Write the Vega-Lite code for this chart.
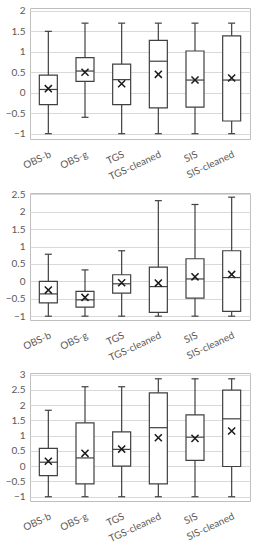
{
  "$schema": "https://vega.github.io/schema/vega-lite/v6.json",
  "padding": {"left": 4, "top": 5, "right": 5, "bottom": 5},
  "spacing": 5,
  "config": {
    "font": "Lato",
    "view": {"stroke": "#bfbfbf", "strokeWidth": 1},
    "tick": {"opacity": 1},
    "axis": {"labelColor": "#595959", "labelFontSize": 10, "ticks": false, "domain": false, "title": null, "labelOverlap": false, "labelFlush": false},
    "axisY": {"gridColor": "#d9d9d9", "labelPadding": 5, "labelExpr": "format(datum.value, '.1~f')"},
    "axisX": {"grid": false, "labelAngle": -25, "labelPadding": 10}
  },
  "datasets": {
    "stats": [
      {"panel": "A", "cat": "OBS-b", "min": -1, "q1": -0.29, "median": 0.08, "q3": 0.43, "max": 1.5, "mean": 0.1},
      {"panel": "A", "cat": "OBS-g", "min": -0.6, "q1": 0.28, "median": 0.53, "q3": 0.86, "max": 1.7, "mean": 0.5},
      {"panel": "A", "cat": "TGS", "min": -1, "q1": -0.29, "median": 0.32, "q3": 0.7, "max": 1.7, "mean": 0.22},
      {"panel": "A", "cat": "TGS-cleaned", "min": -1, "q1": -0.37, "median": 0.77, "q3": 1.28, "max": 1.7, "mean": 0.45},
      {"panel": "A", "cat": "SIS", "min": -1, "q1": -0.35, "median": 0.31, "q3": 1.02, "max": 1.7, "mean": 0.31},
      {"panel": "A", "cat": "SIS-cleaned", "min": -1, "q1": -0.69, "median": 0.31, "q3": 1.39, "max": 1.7, "mean": 0.36},
      {"panel": "B", "cat": "OBS-b", "min": -1, "q1": -0.62, "median": -0.36, "q3": 0.0, "max": 0.78, "mean": -0.25},
      {"panel": "B", "cat": "OBS-g", "min": -1, "q1": -0.74, "median": -0.53, "q3": -0.29, "max": 0.33, "mean": -0.46},
      {"panel": "B", "cat": "TGS", "min": -1, "q1": -0.34, "median": -0.07, "q3": 0.19, "max": 0.88, "mean": -0.04},
      {"panel": "B", "cat": "TGS-cleaned", "min": -1, "q1": -0.89, "median": -0.15, "q3": 0.41, "max": 2.32, "mean": -0.05},
      {"panel": "B", "cat": "SIS", "min": -1, "q1": -0.48, "median": 0.07, "q3": 0.65, "max": 2.21, "mean": 0.13},
      {"panel": "B", "cat": "SIS-cleaned", "min": -1, "q1": -0.86, "median": 0.11, "q3": 0.88, "max": 2.42, "mean": 0.2},
      {"panel": "C", "cat": "OBS-b", "min": -1, "q1": -0.31, "median": 0.13, "q3": 0.58, "max": 1.83, "mean": 0.16},
      {"panel": "C", "cat": "OBS-g", "min": -1, "q1": -0.58, "median": 0.27, "q3": 1.42, "max": 2.6, "mean": 0.42},
      {"panel": "C", "cat": "TGS", "min": -1, "q1": 0.0, "median": 0.55, "q3": 1.12, "max": 2.6, "mean": 0.56},
      {"panel": "C", "cat": "TGS-cleaned", "min": -1, "q1": -0.58, "median": 1.26, "q3": 2.4, "max": 2.86, "mean": 0.93},
      {"panel": "C", "cat": "SIS", "min": -1, "q1": 0.19, "median": 0.95, "q3": 1.68, "max": 2.86, "mean": 0.91},
      {"panel": "C", "cat": "SIS-cleaned", "min": -1, "q1": -0.01, "median": 1.55, "q3": 2.49, "max": 2.86, "mean": 1.15}
    ]
  },
  "vconcat": [
    {
      "width": 220, "height": 131,
      "data": {"name": "stats"},
      "transform": [{"filter": "datum.panel === 'A'"}],
      "encoding": {
        "x": {"field": "cat", "type": "nominal", "sort": ["OBS-b", "OBS-g", "TGS", "TGS-cleaned", "SIS", "SIS-cleaned"]}
      },
      "layer": [
        {"mark": {"type": "rule", "color": "#404040", "strokeWidth": 1.2},
         "encoding": {"y": {"field": "min", "type": "quantitative", "scale": {"domain": [-1.13, 2.07], "nice": false, "zero": false}, "axis": {"values": [-1, -0.5, 0, 0.5, 1, 1.5, 2]}}, "y2": {"field": "max"}}},
        {"mark": {"type": "tick", "color": "#404040", "size": 7, "thickness": 1.2}, "encoding": {"y": {"field": "min", "type": "quantitative", "axis": {"values": [-1, -0.5, 0, 0.5, 1, 1.5, 2]}}}},
        {"mark": {"type": "tick", "color": "#404040", "size": 7, "thickness": 1.2}, "encoding": {"y": {"field": "max", "type": "quantitative", "axis": {"values": [-1, -0.5, 0, 0.5, 1, 1.5, 2]}}}},
        {"mark": {"type": "bar", "fill": "white", "stroke": "#404040", "strokeWidth": 1.2, "size": 18}, "encoding": {"y": {"field": "q1", "type": "quantitative", "axis": {"values": [-1, -0.5, 0, 0.5, 1, 1.5, 2]}}, "y2": {"field": "q3"}}},
        {"mark": {"type": "tick", "color": "#404040", "size": 18, "thickness": 1.2}, "encoding": {"y": {"field": "median", "type": "quantitative", "axis": {"values": [-1, -0.5, 0, 0.5, 1, 1.5, 2]}}}},
        {"mark": {"type": "point", "shape": "M-1,-1L1,1M1,-1L-1,1", "filled": false, "stroke": "#1a1a1a", "strokeWidth": 1.5, "size": 50, "opacity": 1}, "encoding": {"y": {"field": "mean", "type": "quantitative", "axis": {"values": [-1, -0.5, 0, 0.5, 1, 1.5, 2]}}}}
      ]
    },
    {
      "width": 220, "height": 127,
      "data": {"name": "stats"},
      "transform": [{"filter": "datum.panel === 'B'"}],
      "encoding": {
        "x": {"field": "cat", "type": "nominal", "sort": ["OBS-b", "OBS-g", "TGS", "TGS-cleaned", "SIS", "SIS-cleaned"]}
      },
      "layer": [
        {"mark": {"type": "rule", "color": "#404040", "strokeWidth": 1.2},
         "encoding": {"y": {"field": "min", "type": "quantitative", "scale": {"domain": [-1.11, 2.54], "nice": false, "zero": false}, "axis": {"values": [-1, -0.5, 0, 0.5, 1, 1.5, 2, 2.5]}}, "y2": {"field": "max"}}},
        {"mark": {"type": "tick", "color": "#404040", "size": 7, "thickness": 1.2}, "encoding": {"y": {"field": "min", "type": "quantitative", "axis": {"values": [-1, -0.5, 0, 0.5, 1, 1.5, 2, 2.5]}}}},
        {"mark": {"type": "tick", "color": "#404040", "size": 7, "thickness": 1.2}, "encoding": {"y": {"field": "max", "type": "quantitative", "axis": {"values": [-1, -0.5, 0, 0.5, 1, 1.5, 2, 2.5]}}}},
        {"mark": {"type": "bar", "fill": "white", "stroke": "#404040", "strokeWidth": 1.2, "size": 18}, "encoding": {"y": {"field": "q1", "type": "quantitative", "axis": {"values": [-1, -0.5, 0, 0.5, 1, 1.5, 2, 2.5]}}, "y2": {"field": "q3"}}},
        {"mark": {"type": "tick", "color": "#404040", "size": 18, "thickness": 1.2}, "encoding": {"y": {"field": "median", "type": "quantitative", "axis": {"values": [-1, -0.5, 0, 0.5, 1, 1.5, 2, 2.5]}}}},
        {"mark": {"type": "point", "shape": "M-1,-1L1,1M1,-1L-1,1", "filled": false, "stroke": "#1a1a1a", "strokeWidth": 1.5, "size": 50, "opacity": 1}, "encoding": {"y": {"field": "mean", "type": "quantitative", "axis": {"values": [-1, -0.5, 0, 0.5, 1, 1.5, 2, 2.5]}}}}
      ]
    },
    {
      "width": 220, "height": 128,
      "data": {"name": "stats"},
      "transform": [{"filter": "datum.panel === 'C'"}],
      "encoding": {
        "x": {"field": "cat", "type": "nominal", "sort": ["OBS-b", "OBS-g", "TGS", "TGS-cleaned", "SIS", "SIS-cleaned"]}
      },
      "layer": [
        {"mark": {"type": "rule", "color": "#404040", "strokeWidth": 1.2},
         "encoding": {"y": {"field": "min", "type": "quantitative", "scale": {"domain": [-1.14, 3.05], "nice": false, "zero": false}, "axis": {"values": [-1, -0.5, 0, 0.5, 1, 1.5, 2, 2.5, 3]}}, "y2": {"field": "max"}}},
        {"mark": {"type": "tick", "color": "#404040", "size": 7, "thickness": 1.2}, "encoding": {"y": {"field": "min", "type": "quantitative", "axis": {"values": [-1, -0.5, 0, 0.5, 1, 1.5, 2, 2.5, 3]}}}},
        {"mark": {"type": "tick", "color": "#404040", "size": 7, "thickness": 1.2}, "encoding": {"y": {"field": "max", "type": "quantitative", "axis": {"values": [-1, -0.5, 0, 0.5, 1, 1.5, 2, 2.5, 3]}}}},
        {"mark": {"type": "bar", "fill": "white", "stroke": "#404040", "strokeWidth": 1.2, "size": 18}, "encoding": {"y": {"field": "q1", "type": "quantitative", "axis": {"values": [-1, -0.5, 0, 0.5, 1, 1.5, 2, 2.5, 3]}}, "y2": {"field": "q3"}}},
        {"mark": {"type": "tick", "color": "#404040", "size": 18, "thickness": 1.2}, "encoding": {"y": {"field": "median", "type": "quantitative", "axis": {"values": [-1, -0.5, 0, 0.5, 1, 1.5, 2, 2.5, 3]}}}},
        {"mark": {"type": "point", "shape": "M-1,-1L1,1M1,-1L-1,1", "filled": false, "stroke": "#1a1a1a", "strokeWidth": 1.5, "size": 50, "opacity": 1}, "encoding": {"y": {"field": "mean", "type": "quantitative", "axis": {"values": [-1, -0.5, 0, 0.5, 1, 1.5, 2, 2.5, 3]}}}}
      ]
    }
  ]
}
